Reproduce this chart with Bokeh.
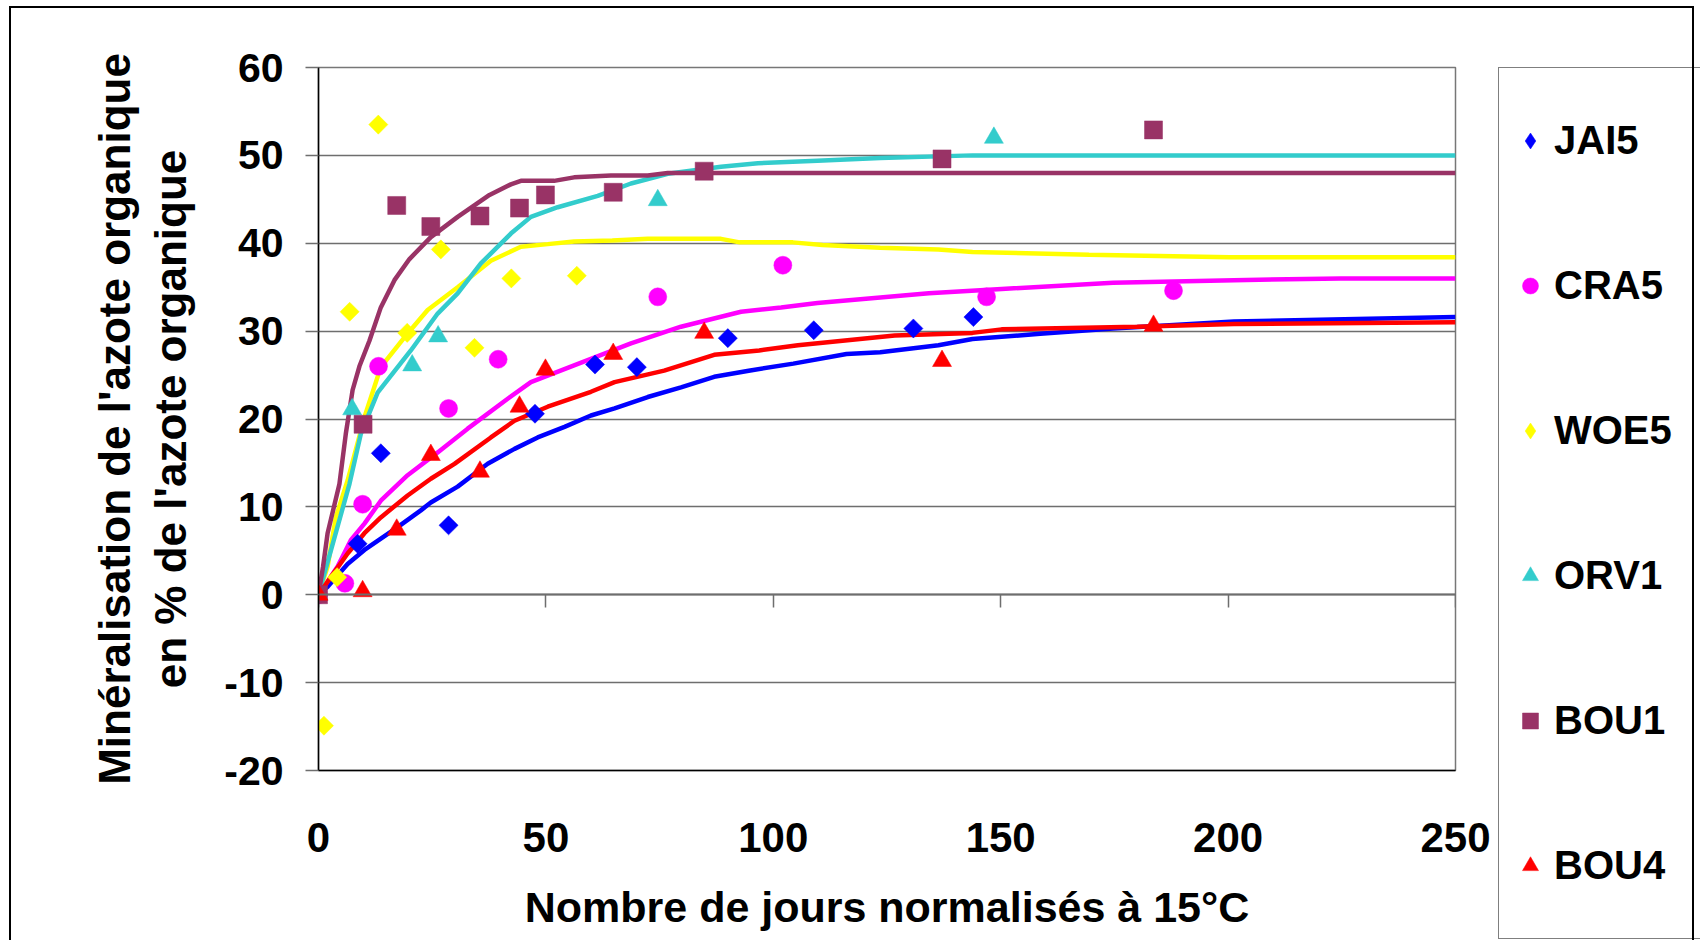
import math
from bokeh.plotting import figure
from bokeh.layouts import row
from bokeh.models import (FixedTicker, LinearAxis, Legend, LegendItem, Range1d)
from bokeh.embed import file_html
from bokeh.resources import INLINE

# ---------------- data ----------------
x_ticks = [0, 50, 100, 150, 200, 250]
y_ticks = [-20, -10, 0, 10, 20, 30, 40, 50, 60]

series_names = ["JAI5", "CRA5", "WOE5", "ORV1", "BOU1", "BOU4"]

# measured points
jai5_x = [0, 8.6, 13.7, 28.6, 47.6, 60.8, 70.0, 90.0, 108.9, 130.8, 144.0]
jai5_y = [0, 5.8, 16.1, 7.9, 20.6, 26.2, 25.9, 29.2, 30.1, 30.3, 31.6]

cra5_x = [0, 5.8, 9.7, 13.2, 28.6, 39.5, 74.6, 102.1, 146.9, 188.0]
cra5_y = [0, 1.3, 10.3, 26.0, 21.2, 26.8, 33.9, 37.5, 33.9, 34.6]

woe5_x = [1.2, 4.1, 6.85, 13.15, 19.5, 26.9, 34.3, 42.4, 56.8]
woe5_y = [-14.9, 2.0, 32.2, 53.5, 29.8, 39.3, 28.1, 36.0, 36.3]

orv1_x = [0, 7.4, 20.6, 26.3, 74.6, 148.5]
orv1_y = [0, 21.1, 26.1, 29.4, 44.9, 52.0]

bou1_x = [0, 9.8, 17.2, 24.7, 35.5, 44.2, 49.9, 64.8, 84.8, 137.1, 183.6]
bou1_y = [0, 19.4, 44.3, 41.9, 43.1, 44.0, 45.5, 45.8, 48.2, 49.6, 52.9]

bou4_x = [0, 9.7, 17.2, 24.7, 35.5, 44.2, 49.9, 64.8, 84.8, 137.1, 183.6]
bou4_y = [0, 0.4, 7.4, 15.9, 14.0, 21.4, 25.6, 27.4, 29.8, 26.6, 30.6]

# model curves
jai5_fit_x = [0, 2, 6.4, 10.1, 17.4, 22.5, 24.7, 30.6, 37.2, 43.1, 48.2, 54.1, 59.9, 65.1, 72.4,
              79.7, 87, 94.6, 104.4, 116.1, 123.5, 136.3, 143.8, 158.7, 174.7, 201.3, 250]
jai5_fit_y = [0, 0.9, 3.5, 5.1, 7.7, 9.6, 10.5, 12.3, 14.9, 16.6, 17.9, 19.1, 20.4, 21.2, 22.5,
              23.6, 24.8, 25.5, 26.3, 27.4, 27.6, 28.4, 29.1, 29.7, 30.3, 31.1, 31.6]

cra5_fit_x = [0, 4.2, 7.1, 10.1, 13.7, 19.6, 26.2, 32.8, 41.6, 46.7, 56.2, 68.7, 79.7, 92.9,
              101.7, 109.7, 134.2, 150.2, 174.7, 201.3, 224.8, 250]
cra5_fit_y = [0, 3.2, 6.2, 8.1, 10.7, 13.6, 16.2, 18.9, 22.3, 24.2, 26.1, 28.6, 30.5, 32.2,
              32.7, 33.2, 34.3, 34.8, 35.5, 35.8, 36.0, 36.0]

woe5_fit_x = [0, 2, 3.8, 6.4, 10.1, 13.7, 18.9, 24, 30.6, 37.9, 44.5, 50.4, 56.2, 64.6, 72.4,
              88.5, 92.6, 104.3, 110.8, 123.5, 136.3, 143.8, 169.4, 200.3, 250]
woe5_fit_y = [0, 3.2, 8.8, 13, 20.2, 25.9, 29.3, 32.4, 35, 38, 39.6, 39.9, 40.2, 40.3, 40.5,
              40.5, 40.1, 40.1, 39.8, 39.5, 39.3, 39.0, 38.7, 38.4, 38.4]

orv1_fit_x = [0, 2.7, 6.8, 9.3, 13, 20.3, 26.2, 30.6, 35.7, 42.3, 46.7, 52.6, 61.4, 68.7, 76.8,
              88.5, 96.6, 109.7, 123.5, 143.8, 250]
orv1_fit_y = [0, 5, 12.6, 18.3, 23, 27.8, 32, 34.3, 37.7, 41.1, 43, 44.1, 45.4, 46.8, 47.9,
              48.7, 49.1, 49.4, 49.7, 50.0, 50.0]

bou1_fit_x = [0, 1, 2, 4.6, 6, 7.5, 9, 11.2, 13.7, 16.7, 20, 24.7, 30.6, 37.6, 42.3, 44.5, 51.8,
              56.2, 64.3, 72.4, 76.8, 100, 250]
bou1_fit_y = [0, 3.2, 7, 12.6, 18.3, 23.3, 26, 28.9, 32.7, 35.8, 38.2, 40.7, 43, 45.5, 46.7,
              47.1, 47.1, 47.5, 47.7, 47.7, 48.0, 48.0, 48.0]

bou4_fit_x = [0, 2.7, 6.4, 10.1, 13.7, 19.6, 24.7, 29.9, 37.9, 43.1, 50.4, 59.9, 65.1, 76, 87,
              96.9, 105.4, 126.7, 143.8, 150.2, 180, 201.3, 250]
bou4_fit_y = [0, 2, 4.7, 7, 8.8, 11.3, 13.2, 14.9, 17.9, 19.8, 21.4, 23.1, 24.2, 25.5, 27.3,
              27.8, 28.4, 29.5, 29.8, 30.2, 30.5, 30.8, 31.0]

# ---------------- figure ----------------
FONT = "'Liberation Sans', Arial, sans-serif"

frame_css = """
:host { position: relative; }
:host::after {
  content: '';
  position: absolute;
  left: 9px; top: 6px;
  width: 1685px; height: 934px;
  border: 2.5px solid black;
  border-bottom: none;
  box-sizing: border-box;
  pointer-events: none;
}
"""

p = figure(width=1497, height=940, output_backend="svg", toolbar_location=None, tools="",
           x_range=Range1d(0, 250), y_range=Range1d(-20, 60),
           min_border_left=318, min_border_right=42, min_border_top=67, min_border_bottom=170,
           background_fill_color="white", border_fill_color="white")
p.frame_align = False

p.outline_line_color = "#777777"
p.outline_line_width = 1.5

p.xgrid.visible = False
p.ygrid.ticker = FixedTicker(ticks=y_ticks)
p.ygrid.grid_line_color = "#6e6e6e"
p.ygrid.grid_line_width = 1.5

# y axis
ya = p.yaxis[0]
ya.ticker = FixedTicker(ticks=y_ticks)
ya.major_label_overrides = {t: str(t) for t in y_ticks}
ya.axis_line_color = "black"
ya.axis_line_width = 1.5
ya.major_tick_out = 13
ya.major_tick_in = 0
ya.minor_tick_out = 0
ya.minor_tick_in = 0
ya.major_tick_line_color = "#6e6e6e"
ya.major_tick_line_width = 1.5
ya.major_label_text_font = FONT
ya.major_label_text_font_size = "41px"
ya.major_label_text_font_style = "bold"
ya.major_label_text_color = "black"
ya.major_label_standoff = 22
ya.axis_label = "Minéralisation de l'azote organique\nen % de l'azote organique"
ya.axis_label_text_font = FONT
ya.axis_label_text_font_size = "44px"
ya.axis_label_text_font_style = "bold"
ya.axis_label_text_color = "black"
ya.axis_label_standoff = 26
ya.axis_label_text_line_height = 1.15

# x axis (labels at bottom)
xa = p.xaxis[0]
xa.ticker = FixedTicker(ticks=x_ticks)
xa.axis_line_color = "black"
xa.axis_line_width = 1.5
xa.major_tick_out = 0
xa.major_tick_in = 0
xa.minor_tick_out = 0
xa.minor_tick_in = 0
xa.major_label_text_font = FONT
xa.major_label_text_font_size = "42px"
xa.major_label_text_font_style = "bold"
xa.major_label_text_color = "black"
xa.major_label_standoff = 52
xa.axis_label = "Nombre de jours normalisés à 15°C"
xa.axis_label_text_font = FONT
xa.axis_label_text_font_size = "43px"
xa.axis_label_text_font_style = "bold"
xa.axis_label_text_color = "black"
xa.axis_label_standoff = 28

# axis crossing at y = 0 (ticks only)
za = LinearAxis(fixed_location=0, ticker=FixedTicker(ticks=x_ticks))
za.axis_line_color = "#6e6e6e"
za.axis_line_width = 2
za.major_tick_out = 13
za.major_tick_in = 0
za.minor_tick_out = 0
za.minor_tick_in = 0
za.major_tick_line_color = "#6e6e6e"
za.major_tick_line_width = 1.5
za.major_label_text_color = None
za.major_label_text_font_size = "1px"
p.add_layout(za, "below")

# ---------------- series ----------------
colors = {"JAI5": "#0000FF", "CRA5": "#FF00FF", "WOE5": "#FFFF00",
          "ORV1": "#33CCCC", "BOU1": "#993366", "BOU4": "#FF0000"}

fits = {"JAI5": (jai5_fit_x, jai5_fit_y), "CRA5": (cra5_fit_x, cra5_fit_y),
        "WOE5": (woe5_fit_x, woe5_fit_y), "ORV1": (orv1_fit_x, orv1_fit_y),
        "BOU1": (bou1_fit_x, bou1_fit_y), "BOU4": (bou4_fit_x, bou4_fit_y)}
pts = {"JAI5": (jai5_x, jai5_y), "CRA5": (cra5_x, cra5_y), "WOE5": (woe5_x, woe5_y),
       "ORV1": (orv1_x, orv1_y), "BOU1": (bou1_x, bou1_y), "BOU4": (bou4_x, bou4_y)}
markers = {"JAI5": ("square", math.pi / 4, 13.5), "CRA5": ("circle", 0, 18),
           "WOE5": ("square", math.pi / 4, 13.5), "ORV1": ("triangle", 0, 19),
           "BOU1": ("square", 0, 18), "BOU4": ("triangle", 0, 19)}
legend_markers = {"JAI5": ("diamond", 22), "CRA5": ("circle", 16), "WOE5": ("diamond", 22),
                  "ORV1": ("triangle", 17), "BOU1": ("square", 15), "BOU4": ("triangle", 17)}

for name in series_names:
    fx, fy = fits[name]
    p.line(fx, fy, line_color=colors[name], line_width=4.5)

for name in series_names:
    sx, sy = pts[name]
    mk, ang, sz = markers[name]
    p.scatter(sx, sy, marker=mk, angle=ang, size=sz,
              fill_color=colors[name], line_color=colors[name], line_width=0.5)

# ---------------- legend panel (separate figure, same series, out of view) ----------------
lp = figure(width=203, height=940, output_backend="svg", toolbar_location=None, tools="",
            x_range=Range1d(-1000, -999), y_range=Range1d(-1000, -999),
            x_axis_type=None, y_axis_type=None, min_border=0,
            background_fill_color="white", border_fill_color="white")
lp.frame_align = False
lp.outline_line_color = None
lp.xgrid.visible = False
lp.ygrid.visible = False

items = []
for name in series_names:
    sx, sy = pts[name]
    mk, sz = legend_markers[name]
    r = lp.scatter(sx, sy, marker=mk, size=sz,
                   fill_color=colors[name], line_color=colors[name], line_width=0.5)
    items.append(LegendItem(label=name, renderers=[r]))

legend = Legend(items=items, location=(1, 1),
                padding=11, glyph_width=40, glyph_height=123, spacing=22,
                label_standoff=4, label_width=170, margin=0,
                label_text_font=FONT, label_text_font_size="40px",
                label_text_font_style="bold", label_text_color="black",
                border_line_color="black", border_line_width=1.5,
                background_fill_color="white", background_fill_alpha=1.0)
lp.add_layout(legend)

layout = row(p, lp, stylesheets=[frame_css])

open("out.html", "w").write(file_html(layout, INLINE))
